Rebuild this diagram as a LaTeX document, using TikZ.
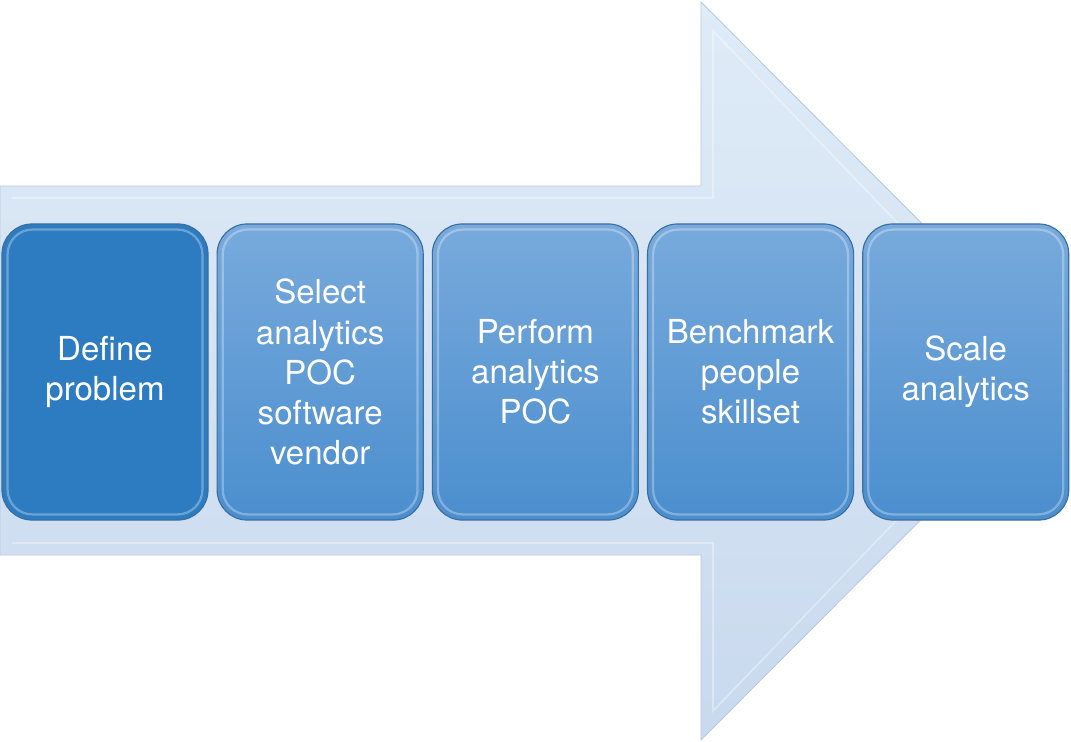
\documentclass[tikz,border=0pt]{standalone}
\usepackage{fontspec}
\setsansfont{TeX Gyre Heros}
\usepackage{tikz}
\usetikzlibrary{positioning}
\definecolor{arrowtop}{HTML}{DFEBF7}
\definecolor{arrowbot}{HTML}{C9D9EE}
\definecolor{arrowedge}{HTML}{B9CADF}
\definecolor{boxtop}{HTML}{78AADC}
\definecolor{boxbot}{HTML}{4B8ECE}
\definecolor{boxdark}{HTML}{2D7CC1}
\definecolor{boxedge}{HTML}{3B6E9F}
\tikzset{
  stagebox/.style={rectangle, rounded corners=0.75cm, draw=boxedge, line width=0.8pt,
                   minimum width=5.15cm, minimum height=7.4cm, text width=4.9cm,
                   align=center, text=white,
                   font=\sffamily\fontsize{23.5}{28.5}\selectfont,
                   path picture={\draw[white, opacity=0.3, line width=1.6pt, rounded corners=0.62cm]
                     ([shift={(0.14cm,-0.14cm)}]path picture bounding box.north west) rectangle
                     ([shift={(-0.14cm,0.14cm)}]path picture bounding box.south east);}},
  light/.style={top color=boxtop, bottom color=boxbot},
  dark/.style={fill=boxdark},
  bigarrow/.style={top color=arrowtop, bottom color=arrowbot, draw=arrowedge, line width=0.6pt},
}

\begin{document}
\begin{tikzpicture}[x=0.025cm, y=-0.025cm, node distance=0.2cm]
  \useasboundingbox (0,0) rectangle (1071,742);

  % background arrow
  \shade[bigarrow] (0,186) -- (701,186) -- (701,2) -- (1069,371) -- (701,740)
    -- (701,555) -- (0,555) -- cycle;
  \draw[white, opacity=0.35, line width=1.2pt] (12,198) -- (713,198) -- (713,31)
    -- (1040,371) -- (713,711) -- (713,543) -- (12,543);

  \node[stagebox, dark] (stage1) at (105,372) {Define\\problem};
  \node[stagebox, light] (stage2) [right=of stage1] {Select\\analytics\\POC\\software\\vendor};
  \node[stagebox, light] (stage3) [right=of stage2] {Perform\\analytics\\POC};
  \node[stagebox, light] (stage4) [right=of stage3] {Benchmark\\people\\skillset};
  \node[stagebox, light] (stage5) [right=of stage4] {Scale\\analytics};

\end{tikzpicture}
\end{document}
